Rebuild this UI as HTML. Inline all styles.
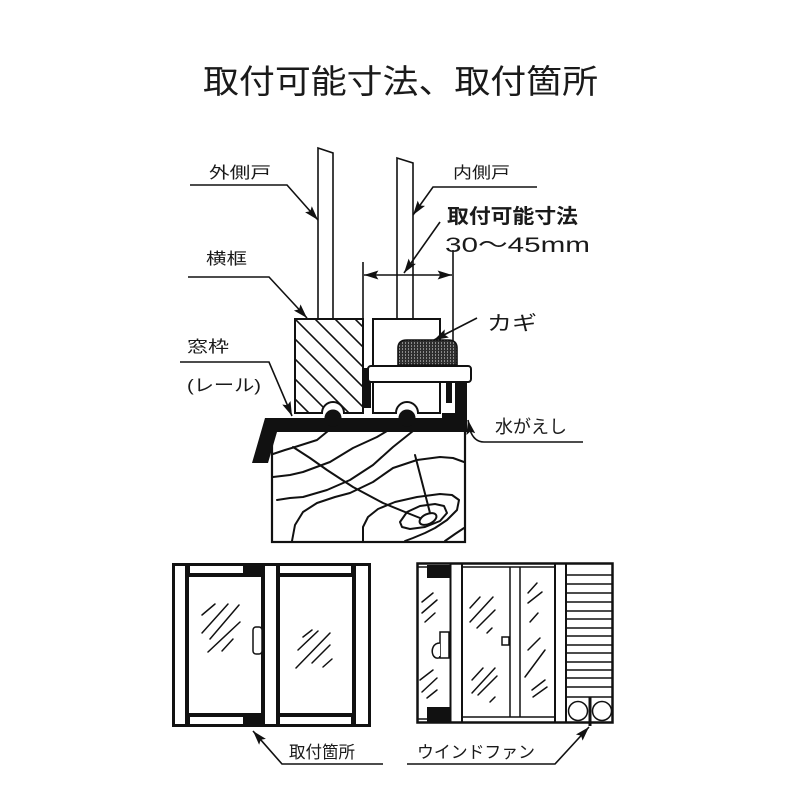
<!DOCTYPE html>
<html><head><meta charset="utf-8"><style>
html,body{margin:0;padding:0;background:#fff;}
svg{display:block;}
text{font-family:"Liberation Sans","Noto Sans CJK JP",sans-serif;fill:#1a1a1a;}
</style></head><body>
<svg width="800" height="800" viewBox="0 0 800 800" xmlns="http://www.w3.org/2000/svg">
<defs>
<marker id="ar" viewBox="0 0 16 10" refX="16" refY="5" markerWidth="16" markerHeight="9" markerUnits="userSpaceOnUse" orient="auto"><path d="M0,0 L16,5 L0,10 L3,5 Z" fill="#111"/></marker>
<marker id="ars" viewBox="0 0 16 10" refX="16" refY="5" markerWidth="16" markerHeight="9" markerUnits="userSpaceOnUse" orient="auto-start-reverse"><path d="M0,0 L16,5 L0,10 L3,5 Z" fill="#111"/></marker>
<pattern id="kn" width="3" height="3" patternUnits="userSpaceOnUse"><rect width="3" height="3" fill="#2e2e2e"/><rect width="1" height="2" fill="#8a8a8a"/></pattern>
<clipPath id="hc"><path d="M295,319 H363 V413 H344 A11,11 0 0 0 322,413 H295 Z"/></clipPath>
</defs>
<rect width="800" height="800" fill="#fff"/>

<!-- Title -->
<text x="203" y="93" font-size="33" textLength="395" lengthAdjust="spacingAndGlyphs">取付可能寸法、取付箇所</text>

<!-- Doors -->
<path d="M318,148 L333,153 V319 H318 Z" fill="#fff" stroke="#111" stroke-width="1.6"/>
<path d="M397,158 L413,163 V319 H397 Z" fill="#fff" stroke="#111" stroke-width="1.6"/>

<!-- Dimension lines -->
<line x1="363" y1="262" x2="363" y2="319" stroke="#111" stroke-width="1.6"/>
<line x1="453" y1="250" x2="453" y2="342" stroke="#111" stroke-width="1.6"/>
<line x1="364" y1="275" x2="452" y2="275" stroke="#111" stroke-width="1.6" marker-start="url(#ars)" marker-end="url(#ars)"/>

<!-- Hatched block 横框 -->
<path d="M295,319 H363 V413 H344 A11,11 0 0 0 322,413 H295 Z" fill="#fff"/>
<g clip-path="url(#hc)" stroke="#111" stroke-width="1.6">
<line x1="260" y1="224" x2="400" y2="364"/>
<line x1="260" y1="244" x2="400" y2="384"/>
<line x1="260" y1="264" x2="400" y2="404"/>
<line x1="260" y1="284" x2="400" y2="424"/>
<line x1="260" y1="304" x2="400" y2="444"/>
<line x1="260" y1="324" x2="400" y2="464"/>
<line x1="260" y1="344" x2="400" y2="484"/>
<line x1="260" y1="364" x2="400" y2="504"/>
</g>
<path d="M295,319 H363 V413 H344 A11,11 0 0 0 322,413 H295 Z" fill="none" stroke="#111" stroke-width="2"/>

<!-- Inner block -->
<path d="M373,319 H440 V413 H418 A11,11 0 0 0 396,413 H373 Z" fill="#fff" stroke="#111" stroke-width="2"/>

<!-- Wood sill -->
<rect x="272" y="430" width="193" height="112" fill="#fff" stroke="#111" stroke-width="2.2"/>
<g fill="none" stroke="#111" stroke-width="2" stroke-linejoin="round" stroke-linecap="round">
<polyline points="273,454 285,450 295,447 317,440 328,431"/>
<polyline points="293,447 310,458 327,470 353,487 383,503 405,512 420,518"/>
<polyline points="273,477 290,475 303,472 330,462 353,448 377,437 387,431"/>
<polyline points="277,500 290,498 303,497 327,490 350,480 373,465 393,447 413,431"/>
<polyline points="292,541 295,525 303,512 317,503 335,497 350,493 373,482 393,468 417,460 440,457 453,458 464,462"/>
<polyline points="363,541 363,527 368,517 378,509 395,502 417,497 440,494 452,495 459,500 457,510 447,520 435,528 425,533 413,538 405,541"/>
<path d="M400,522 L407,512 L420,506 L435,504 L444,506 L447,513 L440,521 L425,527 L410,529 L402,527 Z"/>
<ellipse cx="428" cy="519" rx="9" ry="5" transform="rotate(-25 428 519)" fill="#fff"/>
<line x1="415" y1="455" x2="430" y2="513"/>
<polyline points="445,541 455,534 464,528"/>
</g>

<!-- Rail -->
<path d="M265,418 H467 V432 H277 L268,463 H252 Z" fill="#111"/>
<rect x="442" y="413" width="25" height="6" fill="#111"/>
<circle cx="333" cy="418" r="8.5" fill="#111"/>
<circle cx="407" cy="418" r="8.5" fill="#111"/>
<rect x="455" y="378" width="12" height="54" fill="#111"/>
<rect x="446" y="382" width="6" height="21" fill="#111"/>
<rect x="363" y="368" width="8" height="40" fill="#111"/>

<!-- Plate & knob -->
<rect x="368" y="366" width="103" height="16" rx="3" fill="#fff" stroke="#111" stroke-width="2"/>
<path d="M398,365 V348 Q398,340 407,340 H448 Q457,340 457,348 V365 Z" fill="url(#kn)" stroke="#111" stroke-width="1.6"/>

<!-- Leaders -->
<g fill="none" stroke="#111" stroke-width="1.6">
<polyline points="190,185 287,185 318,220" marker-end="url(#ar)"/>
<polyline points="537,187 433,187 413,215" marker-end="url(#ar)"/>
<line x1="440" y1="222" x2="404" y2="273" marker-end="url(#ar)"/>
<polyline points="188,277 269,277 307,318" marker-end="url(#ar)"/>
<polyline points="180,362 269,362 292,416" marker-end="url(#ar)"/>
<line x1="477" y1="318" x2="434" y2="340" marker-end="url(#ar)"/>
<path d="M583,442 H484 Q474,442 470,430 L468,420" marker-end="url(#ar)"/>
</g>

<!-- Labels -->
<text x="209" y="178" font-size="16" textLength="62" lengthAdjust="spacingAndGlyphs">外側戸</text>
<text x="453" y="178" font-size="16" textLength="57" lengthAdjust="spacingAndGlyphs">内側戸</text>
<text x="447" y="223" font-size="20" font-weight="bold" textLength="131" lengthAdjust="spacingAndGlyphs">取付可能寸法</text>
<text x="445" y="252" font-size="21" textLength="145" lengthAdjust="spacingAndGlyphs">30〜45mm</text>
<text x="206" y="264" font-size="16" textLength="41" lengthAdjust="spacingAndGlyphs">横框</text>
<text x="187" y="352" font-size="16" textLength="42" lengthAdjust="spacingAndGlyphs">窓枠</text>
<text x="187" y="391" font-size="17" textLength="74" lengthAdjust="spacingAndGlyphs">(レール)</text>
<text x="487" y="330" font-size="20" textLength="50" lengthAdjust="spacingAndGlyphs">カギ</text>
<text x="495" y="433" font-size="18" textLength="72" lengthAdjust="spacingAndGlyphs">水がえし</text>

<!-- Left window -->
<rect x="172" y="563" width="199" height="164" fill="#111"/>
<g fill="#fff">
<rect x="175" y="566" width="10" height="158"/>
<rect x="356" y="566" width="12" height="158"/>
<rect x="265" y="566" width="11" height="158"/>
<rect x="190" y="566" width="53" height="7"/>
<rect x="189" y="577" width="72" height="136"/>
<rect x="190" y="717" width="53" height="7"/>
<rect x="280" y="566" width="71" height="7"/>
<rect x="280" y="577" width="72" height="136"/>
<rect x="280" y="717" width="71" height="7"/>
</g>
<rect x="253" y="627" width="9" height="27" rx="3" fill="#fff" stroke="#111" stroke-width="1.5"/>
<g stroke="#111" stroke-width="1.5" stroke-linecap="round">
<line x1="202" y1="615" x2="215" y2="604"/>
<line x1="202" y1="633" x2="228" y2="604"/>
<line x1="210" y1="639" x2="239" y2="605"/>
<line x1="208" y1="652" x2="240" y2="622"/>
<line x1="222" y1="651" x2="233" y2="639"/>
<line x1="303" y1="637" x2="312" y2="630"/>
<line x1="298" y1="650" x2="318" y2="631"/>
<line x1="296" y1="668" x2="330" y2="633"/>
<line x1="312" y1="663" x2="330" y2="645"/>
<line x1="323" y1="667" x2="332" y2="659"/>
</g>

<!-- Right window -->
<rect x="417.5" y="563.5" width="195" height="159" fill="#fff" stroke="#111" stroke-width="2.5"/>
<rect x="427" y="565" width="23" height="13" fill="#111"/>
<rect x="427" y="707" width="23" height="15" fill="#111"/>
<g stroke="#111" fill="none">
<line x1="417" y1="567" x2="427" y2="567" stroke-width="1.5"/>
<line x1="417" y1="719" x2="427" y2="719" stroke-width="1.5"/>
<line x1="450.5" y1="563" x2="450.5" y2="723" stroke-width="2"/>
<line x1="462" y1="563" x2="462" y2="723" stroke-width="2"/>
<line x1="462" y1="567" x2="555" y2="567" stroke-width="1.5"/>
<line x1="462" y1="717" x2="555" y2="717" stroke-width="1.5"/>
<line x1="510" y1="567" x2="510" y2="717" stroke-width="1.5"/>
<line x1="520" y1="567" x2="520" y2="717" stroke-width="1.5"/>
<line x1="555" y1="563" x2="555" y2="723" stroke-width="2"/>
<line x1="566" y1="563" x2="566" y2="723" stroke-width="2"/>
<g stroke-width="1.5">
<line x1="566" y1="575" x2="613" y2="575"/>
<line x1="566" y1="584" x2="613" y2="584"/>
<line x1="566" y1="593" x2="613" y2="593"/>
<line x1="566" y1="602" x2="613" y2="602"/>
<line x1="566" y1="611" x2="613" y2="611"/>
<line x1="566" y1="619" x2="613" y2="619"/>
<line x1="566" y1="628" x2="613" y2="628"/>
<line x1="566" y1="636" x2="613" y2="636"/>
<line x1="566" y1="645" x2="613" y2="645"/>
<line x1="566" y1="653" x2="613" y2="653"/>
<line x1="566" y1="662" x2="613" y2="662"/>
<line x1="566" y1="670" x2="613" y2="670"/>
<line x1="566" y1="678" x2="613" y2="678"/>
<line x1="566" y1="687" x2="613" y2="687"/>
<line x1="566" y1="697" x2="613" y2="697"/>
</g>
<circle cx="578" cy="711" r="9.5" stroke-width="1.5"/>
<circle cx="602" cy="711" r="9.5" stroke-width="1.5"/>
</g>
<rect x="588.5" y="697" width="3" height="29" fill="#111"/>
<rect x="440" y="632" width="9" height="26" fill="#fff" stroke="#111" stroke-width="1.5"/>
<path d="M440,643 C433,643 431,650 433,655 C435,659 440,659 440,656" fill="#fff" stroke="#111" stroke-width="1.5"/>
<rect x="502" y="637" width="7" height="8" fill="#fff" stroke="#111" stroke-width="1.5"/>
<g stroke="#111" stroke-width="1.5" stroke-linecap="round">
<line x1="422" y1="602" x2="433" y2="593"/>
<line x1="422" y1="613" x2="437" y2="600"/>
<line x1="425" y1="622" x2="435" y2="613"/>
<line x1="420" y1="680" x2="433" y2="670"/>
<line x1="422" y1="692" x2="437" y2="678"/>
<line x1="427" y1="698" x2="437" y2="690"/>
<line x1="470" y1="608" x2="480" y2="597"/>
<line x1="470" y1="622" x2="493" y2="597"/>
<line x1="477" y1="628" x2="495" y2="610"/>
<line x1="487" y1="633" x2="492" y2="628"/>
<line x1="472" y1="680" x2="483" y2="668"/>
<line x1="472" y1="693" x2="495" y2="668"/>
<line x1="478" y1="695" x2="497" y2="676"/>
<line x1="490" y1="702" x2="495" y2="697"/>
<line x1="528" y1="593" x2="537" y2="583"/>
<line x1="528" y1="603" x2="542" y2="592"/>
<line x1="530" y1="622" x2="538" y2="613"/>
<line x1="528" y1="650" x2="540" y2="638"/>
<line x1="525" y1="677" x2="545" y2="650"/>
<line x1="532" y1="690" x2="545" y2="680"/>
<line x1="533" y1="697" x2="547" y2="687"/>
</g>

<!-- Bottom leaders -->
<g fill="none" stroke="#111" stroke-width="1.6">
<polyline points="383,764 282,764 253,731" marker-end="url(#ar)"/>
<polyline points="407,764 555,764 589,727" marker-end="url(#ar)"/>
</g>
<text x="289" y="758" font-size="17" textLength="66" lengthAdjust="spacingAndGlyphs">取付箇所</text>
<text x="417" y="758" font-size="17" textLength="118" lengthAdjust="spacingAndGlyphs">ウインドファン</text>
</svg>
</body></html>
